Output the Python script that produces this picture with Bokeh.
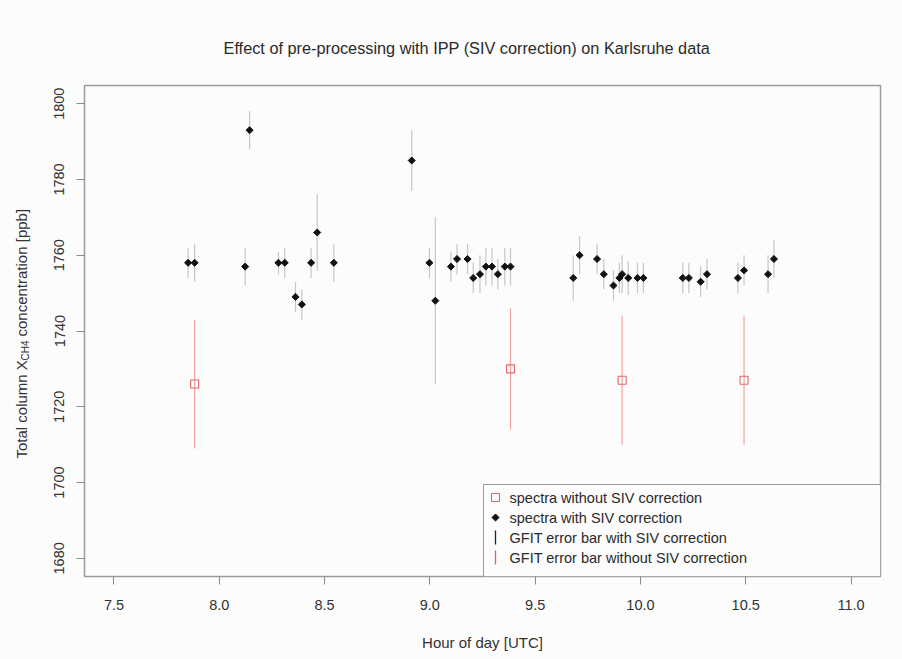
from math import pi

from bokeh.plotting import figure
from bokeh.layouts import row, column
from bokeh.models import ColumnDataSource, Range1d, FixedTicker
from bokeh.core.properties import value
from bokeh.embed import file_html
from bokeh.resources import INLINE

# XCH4 retrievals with SIV correction (hour UTC, ppb, GFIT error ppb)
hour_siv = [7.852, 7.883, 8.123, 8.144, 8.281, 8.311, 8.362, 8.392, 8.436, 8.465,
            8.544, 8.914, 8.998, 9.026, 9.100, 9.129, 9.179, 9.206, 9.238, 9.266,
            9.295, 9.323, 9.356, 9.383, 9.681, 9.711, 9.794, 9.826, 9.872, 9.900,
            9.913, 9.942, 9.986, 10.014, 10.201, 10.230, 10.286, 10.316, 10.463,
            10.492, 10.606, 10.634]
xch4_siv = [1758, 1758, 1757, 1793, 1758, 1758, 1749, 1747, 1758, 1766,
            1758, 1785, 1758, 1748, 1757, 1759, 1759, 1754, 1755, 1757,
            1757, 1755, 1757, 1757, 1754, 1760, 1759, 1755, 1752, 1754,
            1755, 1754, 1754, 1754, 1754, 1754, 1753, 1755, 1754,
            1756, 1755, 1759]
err_siv = [4, 5, 5, 5, 3, 4, 4, 4, 4, 10,
           5, 8, 4, 22, 4, 4, 4, 4, 5, 5,
           5, 4, 5, 5, 6, 5, 4, 4, 4, 4,
           5, 4.5, 4, 4, 4, 4, 4, 4, 4,
           4, 5, 5]

# XCH4 retrievals without SIV correction
hour_raw = [7.883, 9.383, 9.913, 10.492]
xch4_raw = [1726, 1730, 1727, 1727]
err_raw = [17, 16, 17, 17]

x_ticks = [7.5, 8.0, 8.5, 9.0, 9.5, 10.0, 10.5, 11.0]
x_tick_labels = ["7.5", "8.0", "8.5", "9.0", "9.5", "10.0", "10.5", "11.0"]
y_ticks = [1680, 1700, 1720, 1740, 1760, 1780, 1800]

title_text = "Effect of pre-processing with IPP (SIV correction) on Karlsruhe data"
legend_labels = ["spectra without SIV correction", "spectra with SIV correction",
                 "GFIT error bar with SIV correction", "GFIT error bar without SIV correction"]

FONT = "Liberation Sans"
BG = "#fcfcfc"
TXT = "#2a2a2a"
W, H = 902, 659
L, R, T, B = 84, 880, 85, 576          # plot frame edges on the page (px)
YW, TH = 40, 60                        # strip for y-axis label, strip for title

GREY_BAR = "#c6c6c6"
RED_BAR = "#f2a3a3"
RED_PT = "#e06a6a"
BLACK_PT = "#111111"

# axis limits padded by 4 % like the usual plotting default
xpad = (x_ticks[-1] - x_ticks[0]) * 0.04
ypad = (y_ticks[-1] - y_ticks[0]) * 0.04
x0, x1 = x_ticks[0] - xpad, x_ticks[-1] + xpad
y0, y1 = y_ticks[0] - ypad, y_ticks[-1] + ypad


def px_x(sx):
    """page pixel column -> hour coordinate of the main plot"""
    return x0 + (sx - L) / (R - L) * (x1 - x0)


def px_y(sy):
    """page pixel row -> ppb coordinate of the main plot"""
    return y1 - (sy - T) / (B - T) * (y1 - y0)


def blank(width, height, xr, yr):
    f = figure(width=width, height=height, output_backend="svg", toolbar_location=None,
               x_range=xr, y_range=yr, x_axis_location=None, y_axis_location=None,
               min_border=0)
    f.background_fill_color = BG
    f.border_fill_color = BG
    f.outline_line_color = None
    f.grid.visible = False
    return f


# ---- main plot -------------------------------------------------------------
p = figure(width=W - YW, height=H - TH, output_backend="svg", toolbar_location=None,
           x_range=Range1d(x0, x1), y_range=Range1d(y0, y1),
           min_border_left=L - YW, min_border_right=W - R,
           min_border_top=T - TH, min_border_bottom=H - B)
p.background_fill_color = BG
p.border_fill_color = BG
p.outline_line_color = "#9a9a9a"
p.outline_line_width = 1.5
p.grid.visible = False

siv = ColumnDataSource(dict(x=hour_siv, y=xch4_siv,
                            lo=[v - e for v, e in zip(xch4_siv, err_siv)],
                            hi=[v + e for v, e in zip(xch4_siv, err_siv)]))
raw = ColumnDataSource(dict(x=hour_raw, y=xch4_raw,
                            lo=[v - e for v, e in zip(xch4_raw, err_raw)],
                            hi=[v + e for v, e in zip(xch4_raw, err_raw)]))

# error bars
p.segment(x0="x", y0="lo", x1="x", y1="hi", source=siv, line_color=GREY_BAR, line_width=1.2)
p.segment(x0="x", y0="lo", x1="x", y1="hi", source=raw, line_color=RED_BAR, line_width=1.2)

# points
p.scatter("x", "y", source=raw, marker="square", size=8, fill_color=None,
          line_color=RED_PT, line_width=1.1)
p.scatter("x", "y", source=siv, marker="square", angle=pi / 4, size=5,
          fill_color=BLACK_PT, line_color=BLACK_PT, line_width=1)

# ---- legend box (bottom right corner of the frame) --------------------------
leg_left, leg_top = 483, 484
leg_rows = [497, 517, 537, 557]
sym_x, txt_x = 495, 509
p.quad(left=[px_x(leg_left)], right=[px_x(R)], top=[px_y(leg_top)], bottom=[px_y(B)],
       fill_color=BG, line_color="#9a9a9a", line_width=1)
p.rect(x=[px_x(sym_x)], y=[px_y(leg_rows[0])], width=8, height=8,
       width_units="screen", height_units="screen",
       fill_color=None, line_color=[RED_PT], line_width=1.1)
p.scatter(x=[px_x(sym_x)], y=[px_y(leg_rows[1])], marker="square", angle=pi / 4, size=5,
          fill_color=BLACK_PT, line_color=BLACK_PT, line_width=1)
p.segment(x0=[px_x(sym_x)] * 2, x1=[px_x(sym_x)] * 2,
          y0=[px_y(leg_rows[2] - 7), px_y(leg_rows[3] - 7)],
          y1=[px_y(leg_rows[2] + 7), px_y(leg_rows[3] + 7)],
          line_color=["#222222", "#e06060"], line_width=1.3)
p.text(x=[px_x(txt_x)] * 4, y=[px_y(r) for r in leg_rows], text=legend_labels,
       text_font=value(FONT), text_font_size=value("14.5px"), text_color=TXT,
       text_align="left", text_baseline="middle")

# ---- axes ------------------------------------------------------------------
for ax in (p.xaxis, p.yaxis):
    ax.axis_line_color = None
    ax.major_tick_line_color = "#8a8a8a"
    ax.major_tick_out = 8
    ax.major_tick_in = 0
    ax.minor_tick_line_color = None
    ax.major_label_text_font = FONT
    ax.major_label_text_font_size = "14.5px"
    ax.major_label_text_color = "#333333"

p.xaxis.ticker = FixedTicker(ticks=x_ticks)
p.xaxis.major_label_overrides = {t: s for t, s in zip(x_ticks, x_tick_labels)}
p.xaxis.major_label_standoff = 15
p.xaxis.axis_label = "Hour of day [UTC]"
p.xaxis.axis_label_text_font = FONT
p.xaxis.axis_label_text_font_size = "15px"
p.xaxis.axis_label_text_font_style = "normal"
p.xaxis.axis_label_text_color = "#333333"
p.xaxis.axis_label_standoff = 21

p.yaxis.ticker = FixedTicker(ticks=y_ticks)
p.yaxis.major_label_orientation = "vertical"
p.yaxis.major_label_standoff = 12

# ---- title strip (page pixels) -----------------------------------------------
title_fig = blank(W - YW, TH, Range1d(YW, W), Range1d(TH, 0))
title_fig.text(x=[454], y=[47], text=[title_text], text_font=value(FONT),
               text_font_size=value("16.3px"), text_color=TXT,
               text_align="center", text_baseline="middle")

# ---- y-axis label strip with subscript CH4 (page pixels) ---------------------
ylab_fig = blank(YW, H, Range1d(0, YW), Range1d(H, 0))
ylab_fig.text(x=[21, 21], y=[458, 336], text=["Total column X", " concentration [ppb]"],
              angle=pi / 2, text_font=value(FONT), text_font_size=value("15px"),
              text_color="#333333", text_align="left", text_baseline="middle")
ylab_fig.text(x=[25], y=[360], text=["CH4"], angle=pi / 2, text_font=value(FONT),
              text_font_size=value("10px"), text_color="#333333",
              text_align="left", text_baseline="middle")

layout = row(ylab_fig, column(title_fig, p, spacing=0), spacing=0)
open("out.html", "w").write(file_html(layout, INLINE))
